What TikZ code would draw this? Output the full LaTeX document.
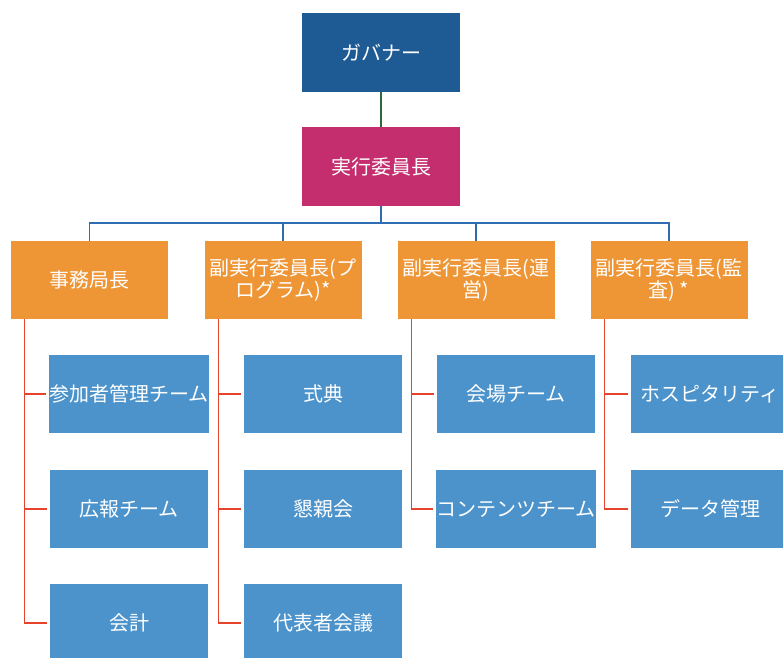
\documentclass[tikz,border=0pt]{standalone}
\usepackage{fontspec}
\newfontfamily\jp{Noto Sans CJK JP}
\definecolor{govblue}{HTML}{1E5A94}
\definecolor{execmag}{HTML}{C42E6E}
\definecolor{deporange}{HTML}{EE9636}
\definecolor{teamblue}{HTML}{4C93CB}
\definecolor{linkblue}{HTML}{2F6DB3}
\definecolor{linkred}{HTML}{E5432B}
\definecolor{linkgreen}{HTML}{2D6A3A}
\begin{document}
\begin{tikzpicture}[x=1pt,y=-1pt,
  basebox/.style={inner sep=0pt,text=white,align=center,font=\jp\fontsize{20}{22}\selectfont},
  topbox/.style={basebox,minimum width=158pt,minimum height=79pt},
  deptbox/.style={basebox,fill=deporange,minimum width=157pt,minimum height=78pt},
  teambox/.style={basebox,fill=teamblue,minimum width=158pt,minimum height=78pt},
  bluelink/.style={draw=linkblue,line width=1.3pt},
  redlink/.style={draw=linkred,line width=1.3pt},
]
\useasboundingbox (0,0) rectangle (783,657);
\clip (0,0) rectangle (783,657);

\node[topbox,fill=govblue] (gov) at (381,52.5) {ガバナー};
\node[topbox,fill=execmag] (exec) at (381,166.5) {実行委員長};
\draw[draw=linkgreen,line width=1.3pt] (gov.south) -- (exec.north);

\node[deptbox] (d1) at (89.5,280) {事務局長};
\node[deptbox] (d2) at (283,280) {副実行委員長(プ\\ログラム)*};
\node[deptbox] (d3) at (476,280) {副実行委員長(運\\営)};
\node[deptbox] (d4) at (669,280) {副実行委員長(監\\査) *};

\coordinate (bus) at (381,223);
\draw[bluelink] (exec.south) -- (bus);
\draw[bluelink] (bus) -| (d1.north);
\draw[bluelink] (bus) -| (d2.north);
\draw[bluelink] (bus) -| (d3.north);
\draw[bluelink] (bus) -| (d4.north);

\node[teambox] (t11) at (129,394) {参加者管理チーム};
\node[teambox] (t12) at (129,509) {広報チーム};
\node[teambox] (t13) at (129,623) {会計};
\node[teambox] (t21) at (323,394) {式典};
\node[teambox] (t22) at (323,509) {懇親会};
\node[teambox] (t23) at (323,623) {代表者会議};
\node[teambox] (t31) at (516,394) {会場チーム};
\node[teambox] (t32) at (516,509) {コンテンツチーム};
\node[teambox] (t41) at (710,394) {ホスピタリティ};
\node[teambox] (t42) at (710,509) {データ管理};

\foreach \d/\t in {d1/t11,d1/t12,d1/t13,d2/t21,d2/t22,d2/t23,d3/t31,d3/t32,d4/t41,d4/t42}
  \draw[redlink] ([xshift=14pt]\d.south west) |- ([xshift=-3pt]\t.west);
\end{tikzpicture}
\end{document}
